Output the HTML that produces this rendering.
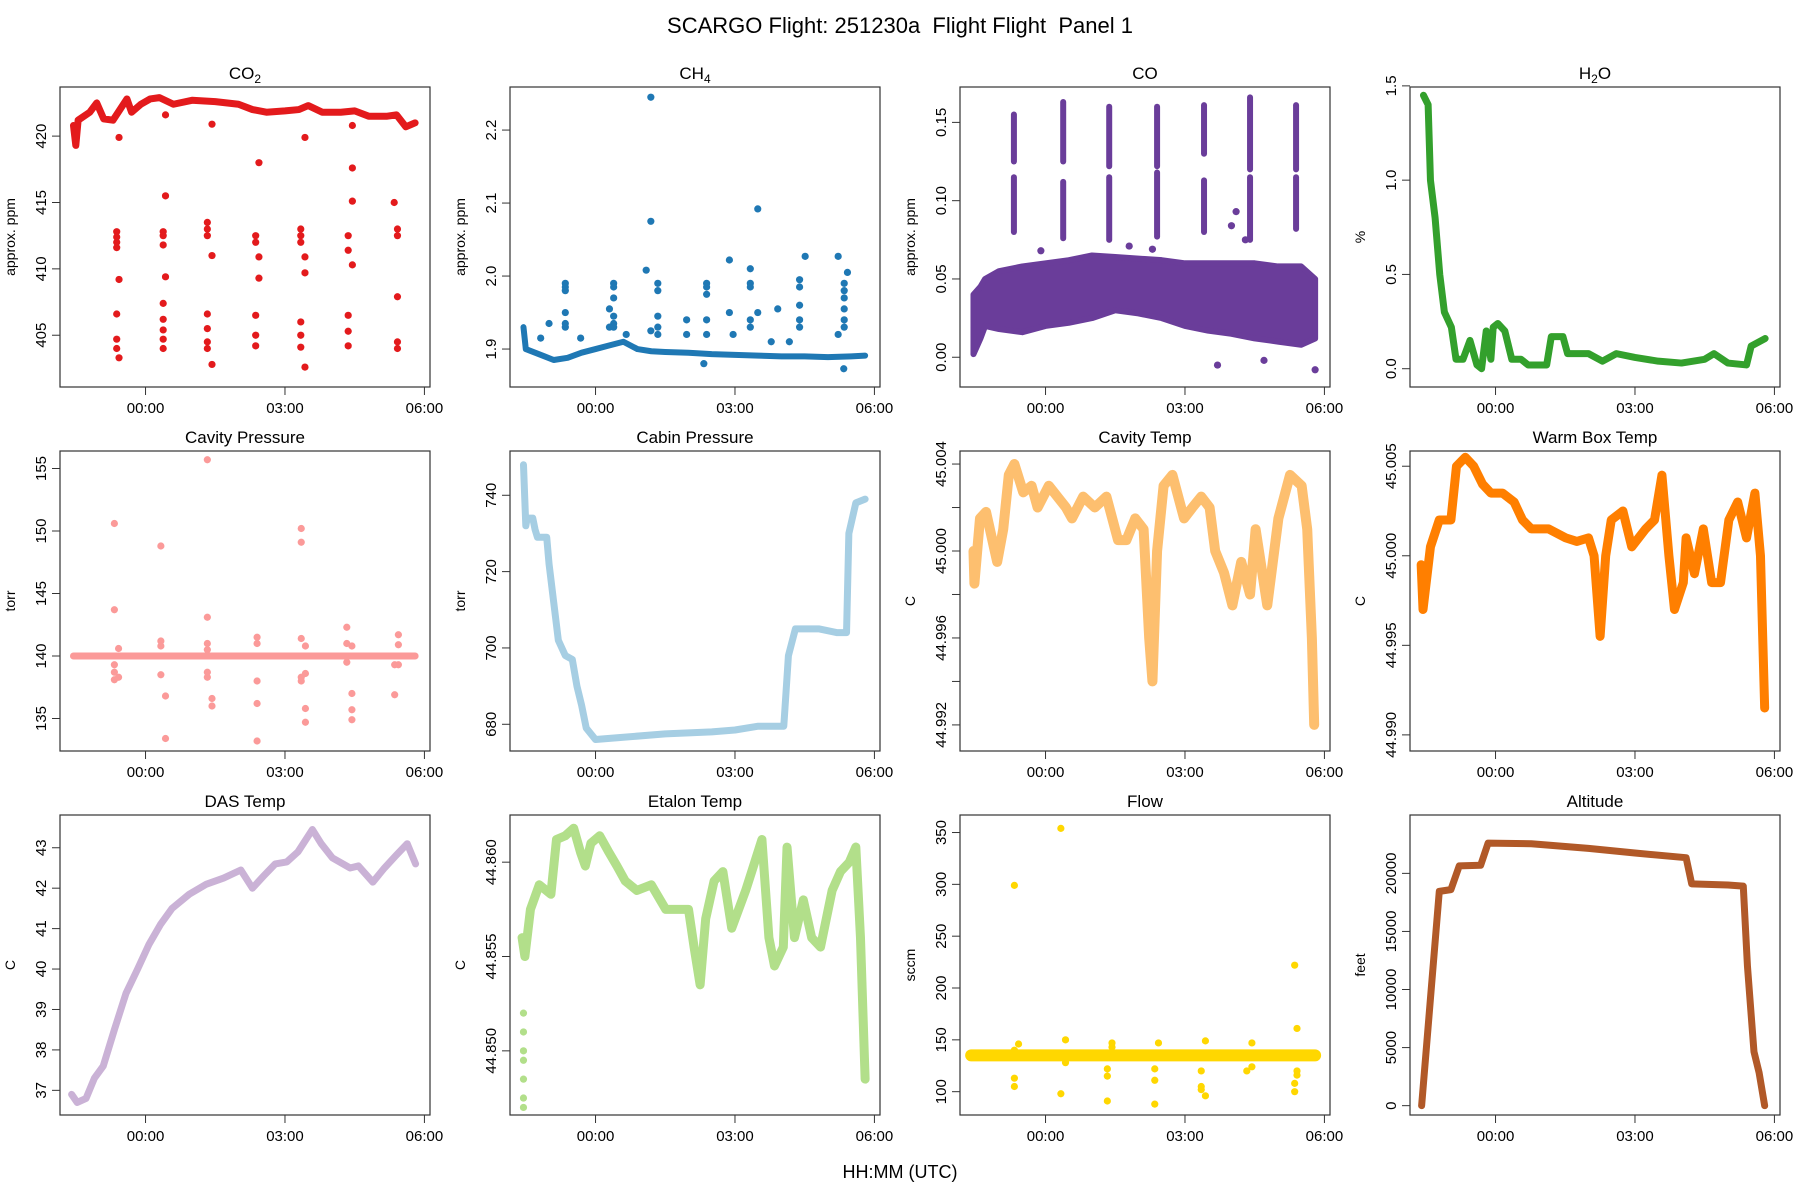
<!DOCTYPE html>
<html><head><meta charset="utf-8"><style>
body{margin:0;background:#fff;}
svg{display:block;font-family:"Liberation Sans",sans-serif;}
</style></head><body>
<svg id="chart" width="1800" height="1200" viewBox="0 0 1800 1200" xmlns="http://www.w3.org/2000/svg">
<rect width="1800" height="1200" fill="#fff"/>
<text x="900" y="33" font-size="22" text-anchor="middle" xml:space="preserve">SCARGO Flight: 251230a  Flight Flight  Panel 1</text>
<text x="900" y="1178" font-size="18" text-anchor="middle">HH:MM (UTC)</text>
</svg>
<script>
// ---------- data (time in hours from 00:00 UTC) ----------
const xTickVals = [0, 3, 6];
const xTickLabels = ["00:00", "03:00", "06:00"];

const co2T = [-1.55,-1.5,-1.45,-1.2,-1.05,-0.9,-0.7,-0.55,-0.4,-0.3,-0.1,0.1,0.3,0.6,1.0,1.5,2.0,2.3,2.6,3.0,3.3,3.5,3.8,4.2,4.5,4.8,5.2,5.4,5.6,5.8];
const co2V = [420.8,419.3,421.2,421.8,422.5,421.3,421.2,422,422.8,421.8,422.4,422.8,422.9,422.4,422.7,422.6,422.4,422.0,421.8,421.9,422.0,422.3,421.8,421.8,421.9,421.5,421.5,421.6,420.7,421.0];
const co2PtT = [-0.57,-0.57,-0.57,-0.62,-0.62,-0.62,-0.62,-0.62,-0.62,-0.62,0.38,0.38,0.38,0.38,0.38,0.38,0.38,0.38,0.43,0.43,0.43,1.33,1.33,1.33,1.33,1.33,1.33,1.33,1.43,1.43,1.43,2.37,2.37,2.37,2.37,2.37,2.44,2.44,2.44,3.34,3.34,3.34,3.34,3.34,3.34,3.43,3.43,3.43,3.43,4.36,4.36,4.36,4.36,4.36,4.45,4.45,4.45,4.45,5.42,5.42,5.42,5.42,5.42,5.35];
const co2PtV = [419.9,409.2,403.3,412.8,412.4,412.0,411.6,406.6,404.7,404.0,412.8,412.5,411.8,407.4,406.2,405.4,404.7,404.0,421.6,415.5,409.4,413.5,413.0,412.5,406.6,405.5,404.5,404.0,420.9,411.0,402.8,412.5,412.0,406.5,405.0,404.2,418.0,410.9,409.3,413.0,412.5,412.0,406.0,405.0,404.1,419.9,410.9,409.7,402.6,412.5,411.4,405.3,406.5,404.2,420.8,417.6,415.1,410.3,413.0,412.5,404.5,404.0,407.9,415.0];

const ch4T = [-1.55,-1.5,-1.3,-1.1,-0.9,-0.6,-0.3,0,0.3,0.6,0.9,1.2,1.5,2,2.5,3,3.5,4,4.5,5,5.5,5.8];
const ch4V = [1.93,1.90,1.895,1.89,1.885,1.888,1.895,1.9,1.905,1.91,1.9,1.897,1.896,1.895,1.893,1.892,1.891,1.89,1.89,1.889,1.89,1.891];
const ch4PtT = [-0.65,-0.65,-0.65,-0.65,-0.65,-0.65,-1.0,-1.18,-0.32,0.39,0.39,0.39,0.39,0.39,0.39,0.3,0.3,0.66,1.09,1.19,1.19,1.19,1.34,1.34,1.34,1.34,1.34,1.96,1.96,2.39,2.39,2.39,2.39,2.39,2.33,2.88,2.88,2.96,3.33,3.33,3.33,3.33,3.33,3.49,3.49,3.92,3.78,4.39,4.39,4.39,4.39,4.39,4.51,4.17,5.22,5.22,5.35,5.35,5.35,5.35,5.35,5.35,5.42,5.34];
const ch4PtV = [1.99,1.985,1.98,1.95,1.935,1.93,1.935,1.915,1.915,1.99,1.985,1.97,1.945,1.935,1.93,1.955,1.93,1.92,2.008,2.245,2.075,1.925,1.99,1.98,1.945,1.93,1.92,1.94,1.92,1.99,1.985,1.975,1.92,1.94,1.88,2.022,1.95,1.92,2.01,1.99,1.985,1.94,1.93,2.092,1.95,1.955,1.91,1.995,1.985,1.96,1.94,1.93,2.027,1.91,2.027,1.92,1.99,1.98,1.97,1.955,1.94,1.93,2.005,1.873];

const coBandT = [-1.55,-1.4,-1.3,-1.0,-0.5,0,0.5,1.0,1.5,2.0,2.5,3.0,3.5,4.0,4.5,5.0,5.5,5.8];
const coLow = [0.002,0.012,0.02,0.018,0.016,0.02,0.022,0.025,0.03,0.028,0.025,0.02,0.017,0.015,0.012,0.01,0.008,0.012];
const coHigh = [0.04,0.045,0.05,0.055,0.058,0.06,0.062,0.065,0.064,0.063,0.062,0.06,0.06,0.06,0.06,0.058,0.058,0.05];
const coSpikeT = [-0.68,0.38,1.37,2.4,3.41,4.4,5.39];
const coSpikeLo1 = [0.08,0.076,0.075,0.077,0.08,0.075,0.082];
const coSpikeHi1 = [0.115,0.112,0.115,0.118,0.113,0.115,0.115];
const coSpikeLo2 = [0.125,0.125,0.122,0.122,0.13,0.12,0.12];
const coSpikeHi2 = [0.155,0.163,0.16,0.16,0.161,0.166,0.161];
const coPtT = [4.1,4.0,4.3,3.7,5.8,-0.1,2.3,1.8,4.7];
const coPtV = [0.093,0.084,0.075,-0.005,-0.008,0.068,0.069,0.071,-0.002];

const h2oT = [-1.55,-1.45,-1.4,-1.3,-1.2,-1.1,-0.95,-0.85,-0.7,-0.55,-0.4,-0.3,-0.2,-0.1,-0.05,0.05,0.2,0.35,0.55,0.7,1.1,1.2,1.45,1.55,2.0,2.3,2.6,3.0,3.5,4.0,4.5,4.7,5.0,5.4,5.5,5.8];
const h2oV = [1.45,1.4,1.0,0.8,0.5,0.3,0.22,0.05,0.05,0.15,0.02,0.0,0.2,0.05,0.22,0.24,0.2,0.05,0.05,0.02,0.02,0.17,0.17,0.08,0.08,0.04,0.08,0.06,0.04,0.03,0.05,0.08,0.03,0.02,0.12,0.16];

const cavPT = [-1.55,5.8];
const cavPV = [140,140];
const cavPPtT = [-0.67,-0.67,-0.67,-0.67,-0.67,-0.58,-0.58,0.33,0.33,0.33,0.33,0.43,0.43,1.33,1.33,1.33,1.33,1.33,1.33,1.43,1.43,2.4,2.4,2.4,2.4,2.4,3.35,3.35,3.35,3.35,3.35,3.44,3.44,3.44,3.44,4.33,4.33,4.33,4.44,4.44,4.44,4.44,5.36,5.36,5.44,5.44,5.44];
const cavPPtV = [150.6,143.7,138.7,139.3,138.1,140.6,138.3,148.8,141.2,140.8,138.5,136.8,133.4,155.7,143.1,141.0,140.5,138.7,138.3,136.6,136.0,141.5,141.0,138.0,136.2,133.2,150.2,149.1,141.4,138.3,138.0,140.8,138.6,135.8,134.7,142.3,141.0,139.5,140.8,137.0,135.7,134.9,136.9,139.3,141.7,140.9,139.3];

const cabT = [-1.55,-1.5,-1.47,-1.35,-1.3,-1.25,-1.05,-1.0,-0.9,-0.8,-0.65,-0.5,-0.4,-0.3,-0.2,0,0.5,1.5,2.5,3.0,3.5,4.05,4.15,4.3,4.8,5.2,5.4,5.45,5.6,5.8];
const cabV = [748,732,734,734,731,729,729,722,712,702,698,697,690,685,679,676,676.5,677.5,678,678.5,679.5,679.5,698,705,705,704,704,730,738,739];

const cavTT = [-1.55,-1.53,-1.41,-1.28,-1.04,-0.91,-0.79,-0.67,-0.48,-0.30,-0.17,0.07,0.44,0.57,0.81,1.06,1.31,1.56,1.74,1.93,2.11,2.23,2.30,2.40,2.54,2.73,2.98,3.16,3.35,3.53,3.65,3.84,4.02,4.21,4.40,4.52,4.77,5.01,5.26,5.51,5.63,5.73,5.78];
const cavTV = [45.0000,44.9985,45.0015,45.0018,44.9995,45.0010,45.0035,45.0040,45.0027,45.0030,45.0020,45.0030,45.0020,45.0015,45.0025,45.0020,45.0025,45.0005,45.0005,45.0015,45.0010,44.9960,44.9940,45.0000,45.0030,45.0035,45.0015,45.0020,45.0025,45.0020,45.0000,44.9990,44.9975,44.9995,44.9980,45.0010,44.9975,45.0015,45.0035,45.0030,45.0010,44.9960,44.9920];

const wbT = [-1.6,-1.56,-1.40,-1.21,-0.96,-0.84,-0.65,-0.47,-0.28,-0.10,0.15,0.40,0.58,0.77,1.14,1.51,1.75,2.0,2.12,2.25,2.37,2.49,2.74,2.93,3.23,3.42,3.58,3.73,3.85,4.04,4.10,4.28,4.47,4.65,4.84,5.02,5.21,5.40,5.58,5.70,5.79];
const wbV = [44.9995,44.9970,45.0005,45.0020,45.0020,45.0050,45.0055,45.0050,45.0040,45.0035,45.0035,45.0030,45.0020,45.0015,45.0015,45.0010,45.0008,45.0010,45.0000,44.9955,45.0000,45.0020,45.0025,45.0005,45.0015,45.0020,45.0045,45.0000,44.9970,44.9985,45.0010,44.9990,45.0015,44.9985,44.9985,45.0020,45.0030,45.0010,45.0035,45.0000,44.9915];

const dasT = [-1.59,-1.47,-1.28,-1.10,-0.91,-0.67,-0.42,-0.17,0.07,0.32,0.57,0.94,1.31,1.68,2.05,2.30,2.54,2.79,3.04,3.28,3.59,3.78,4.02,4.40,4.58,4.89,5.14,5.38,5.63,5.81];
const dasV = [36.9,36.7,36.8,37.3,37.6,38.5,39.4,40.0,40.6,41.1,41.5,41.85,42.1,42.25,42.45,42.0,42.3,42.6,42.65,42.9,43.45,43.1,42.75,42.5,42.55,42.15,42.5,42.8,43.1,42.6];

const etT = [-1.58,-1.52,-1.40,-1.21,-0.96,-0.84,-0.65,-0.47,-0.32,-0.22,-0.10,0.09,0.27,0.46,0.64,0.89,1.20,1.51,1.75,2.0,2.12,2.25,2.37,2.55,2.74,2.93,3.23,3.36,3.58,3.73,3.85,4.04,4.12,4.28,4.47,4.65,4.84,5.09,5.27,5.46,5.60,5.70,5.80];
const etV = [44.8560,44.8550,44.8575,44.8588,44.8583,44.8612,44.8614,44.8618,44.8605,44.8598,44.8610,44.8614,44.8606,44.8598,44.8590,44.8585,44.8588,44.8575,44.8575,44.8575,44.8555,44.8535,44.8570,44.8590,44.8595,44.8565,44.8585,44.8595,44.8612,44.8560,44.8545,44.8555,44.8608,44.8560,44.8580,44.8560,44.8555,44.8585,44.8595,44.8600,44.8608,44.8560,44.8485];
const etPtT = [-1.55,-1.55,-1.55,-1.55,-1.55,-1.55,-1.55];
const etPtV = [44.8520,44.8510,44.8500,44.8495,44.8485,44.8475,44.8470];

const flowT = [-1.6,5.8];
const flowV = [135,135];
const flowPtT = [-0.67,-0.67,-0.67,-0.67,-0.58,0.33,0.33,0.43,0.43,1.33,1.33,1.33,1.43,1.43,2.35,2.35,2.35,2.43,3.35,3.35,3.35,3.44,3.44,4.33,4.44,4.44,5.36,5.36,5.36,5.41,5.41,5.41];
const flowPtV = [299,113,105,140,146,354,98,150,128,122,115,91,147,143,122,111,88,147,120,105,102,96,149,120,147,124,222,108,100,161,120,116];

const altT = [-1.59,-1.21,-0.96,-0.78,-0.32,-0.16,0.77,2.0,3.0,4.1,4.22,5.0,5.33,5.42,5.56,5.67,5.79];
const altV = [0,18450,18600,20650,20700,22600,22550,22150,21750,21350,19100,19000,18900,12000,4650,2850,0];

// ---------- layout ----------
const svg = document.getElementById('chart');
const NS = 'http://www.w3.org/2000/svg';
const X0 = -1.84, X1 = 6.12;
function mk(tag, attrs, parent){
  const e = document.createElementNS(NS, tag);
  for (const k in attrs) e.setAttribute(k, attrs[k]);
  (parent||svg).appendChild(e);
  return e;
}
const panels = [
 {key:'co2', title:'CO', sub:'2', yl:'approx. ppm', lo:401.1, hi:423.7, ticks:[405,410,415,420], labels:['405','410','415','420'], color:'#E31A1C', line:[co2T,co2V], pts:[co2PtT,co2PtV]},
 {key:'ch4', title:'CH', sub:'4', yl:'approx. ppm', lo:1.848, hi:2.259, ticks:[1.9,2.0,2.1,2.2], labels:['1.9','2.0','2.1','2.2'], color:'#1F78B4', line:[ch4T,ch4V], pts:[ch4PtT,ch4PtV], lw:6},
 {key:'co', title:'CO', yl:'approx. ppm', lo:-0.019, hi:0.1726, ticks:[0,0.05,0.1,0.15], labels:['0.00','0.05','0.10','0.15'], color:'#6A3D9A', co:true, pts:[coPtT,coPtV]},
 {key:'h2o', title:'H', sub:'2', after:'O', yl:'%', lo:-0.097, hi:1.494, ticks:[0,0.5,1.0,1.5], labels:['0.0','0.5','1.0','1.5'], color:'#33A02C', line:[h2oT,h2oV]},
 {key:'cavity-pressure', title:'Cavity Pressure', yl:'torr', lo:132.4, hi:156.4, ticks:[135,140,145,150,155], labels:['135','140','145','150','155'], color:'#FB9A99', line:[cavPT,cavPV], pts:[cavPPtT,cavPPtV]},
 {key:'cabin-pressure', title:'Cabin Pressure', yl:'torr', lo:673, hi:751.6, ticks:[680,700,720,740], labels:['680','700','720','740'], color:'#A6CEE3', line:[cabT,cabV]},
 {key:'cavity-temp', title:'Cavity Temp', yl:'C', lo:44.9908, hi:45.0046, ticks:[44.992,44.994,44.996,44.998,45.0,45.002,45.004], labels:['44.992','','44.996','','45.000','','45.004'], color:'#FDBF6F', line:[cavTT,cavTV], lw:10},
 {key:'warm-box-temp', title:'Warm Box Temp', yl:'C', lo:44.9891, hi:45.00585, ticks:[44.99,44.995,45.0,45.005], labels:['44.990','44.995','45.000','45.005'], color:'#FF7F00', line:[wbT,wbV], lw:9},
 {key:'das-temp', title:'DAS Temp', yl:'C', lo:36.39, hi:43.81, ticks:[37,38,39,40,41,42,43], labels:['37','38','39','40','41','42','43'], color:'#CAB2D6', line:[dasT,dasV]},
 {key:'etalon-temp', title:'Etalon Temp', yl:'C', lo:44.8466, hi:44.8625, ticks:[44.85,44.855,44.86], labels:['44.850','44.855','44.860'], color:'#B2DF8A', line:[etT,etV], pts:[etPtT,etPtV], lw:9},
 {key:'flow', title:'Flow', yl:'sccm', lo:77.5, hi:366.9, ticks:[100,150,200,250,300,350], labels:['100','150','200','250','300','350'], color:'#FFD700', line:[flowT,flowV], pts:[flowPtT,flowPtV], lw:12},
 {key:'altitude', title:'Altitude', yl:'feet', lo:-804, hi:25025, ticks:[0,5000,10000,15000,20000], labels:['0','5000','10000','15000','20000'], color:'#B15928', line:[altT,altV]}
];
const W = 370, H = 300;
const defs = mk('defs', {});
panels.forEach((p, i) => {
  const c = i % 4, r = Math.floor(i / 4);
  const L = 60 + 450 * c, T = 87 + 364 * r, B = T + H, R = L + W;
  const sx = t => L + (t - X0) / (X1 - X0) * W;
  const sy = v => B - (v - p.lo) / (p.hi - p.lo) * H;
  const g = mk('g', {});
  
  
  const cp = mk('clipPath', {id: 'clip' + i}, defs);
  mk('rect', {x: L, y: T, width: W, height: H}, cp);
  const tt = mk('text', {x: L + W / 2, y: T - 8, 'font-size': 17, 'text-anchor': 'middle'}, g);
  
  
  tt.textContent = p.title;
  if (p.sub) {
    const s = mk('tspan', {'font-size': 12, dy: 4}, tt); s.textContent = p.sub;
    if (p.after) { const a = mk('tspan', {dy: -4, 'font-size': 17}, tt); a.textContent = p.after; }
  }
  const yl = mk('text', {x: 0, y: 0, 'font-size': 14, 'text-anchor': 'middle', transform: `translate(${L - 45},${T + H / 2}) rotate(-90)`}, g);
  
  
  yl.textContent = p.yl;
  const mg = mk('g', {'clip-path': `url(#clip${i})`}, g);
  if (p.co) {
    let d = '';
    coBandT.forEach((t, k) => { d += (k ? 'L' : 'M') + sx(t) + ',' + sy(coHigh[k]); });
    for (let k = coBandT.length - 1; k >= 0; k--) d += 'L' + sx(coBandT[k]) + ',' + sy(coLow[k]);
    const band = mk('path', {d: d + 'Z', fill: p.color, stroke: p.color, 'stroke-width': 6, 'stroke-linejoin': 'round'}, mg);
    
    
    coSpikeT.forEach((t, k) => {
      const s1 = mk('line', {x1: sx(t), x2: sx(t), y1: sy(coSpikeLo1[k]), y2: sy(coSpikeHi1[k]), stroke: p.color, 'stroke-width': 6, 'stroke-linecap': 'round'}, mg);
      
      
      const s2 = mk('line', {x1: sx(t), x2: sx(t), y1: sy(coSpikeLo2[k]), y2: sy(coSpikeHi2[k]), stroke: p.color, 'stroke-width': 6, 'stroke-linecap': 'round'}, mg);
      
      
    });
  }
  if (p.line) {
    const pts = p.line[0].map((t, k) => sx(t) + ',' + sy(p.line[1][k])).join(' ');
    const pl = mk('polyline', {points: pts, fill: 'none', stroke: p.color, 'stroke-width': p.lw || 7, 'stroke-linejoin': 'round', 'stroke-linecap': 'round'}, mg);
    
    
  }
  if (p.pts) {
    p.pts[0].forEach((t, k) => {
      const cc = mk('circle', {cx: sx(t), cy: sy(p.pts[1][k]), r: 3.6, fill: p.color}, mg);
      
      
    });
  }
  const bx = mk('rect', {x: L, y: T, width: W, height: H, fill: 'none', stroke: '#333', 'stroke-width': 1.2}, g);
  
  
  xTickVals.forEach((t, k) => {
    mk('line', {x1: sx(t), x2: sx(t), y1: B, y2: B + 8, stroke: '#333', 'stroke-width': 1}, g);
    const lt = mk('text', {x: sx(t), y: B + 26, 'font-size': 15, 'text-anchor': 'middle'}, g);
    
    
    lt.textContent = xTickLabels[k];
  });
  p.ticks.forEach((v, k) => {
    mk('line', {x1: L - 8, x2: L, y1: sy(v), y2: sy(v), stroke: '#333', 'stroke-width': 1}, g);
    if (p.labels[k]) {
      const lt = mk('text', {x: 0, y: 0, 'font-size': 15, 'text-anchor': 'middle', transform: `translate(${L - 14},${sy(v)}) rotate(-90)`}, g);
      
      
      lt.textContent = p.labels[k];
    }
  });
});
</script>
</body></html>
